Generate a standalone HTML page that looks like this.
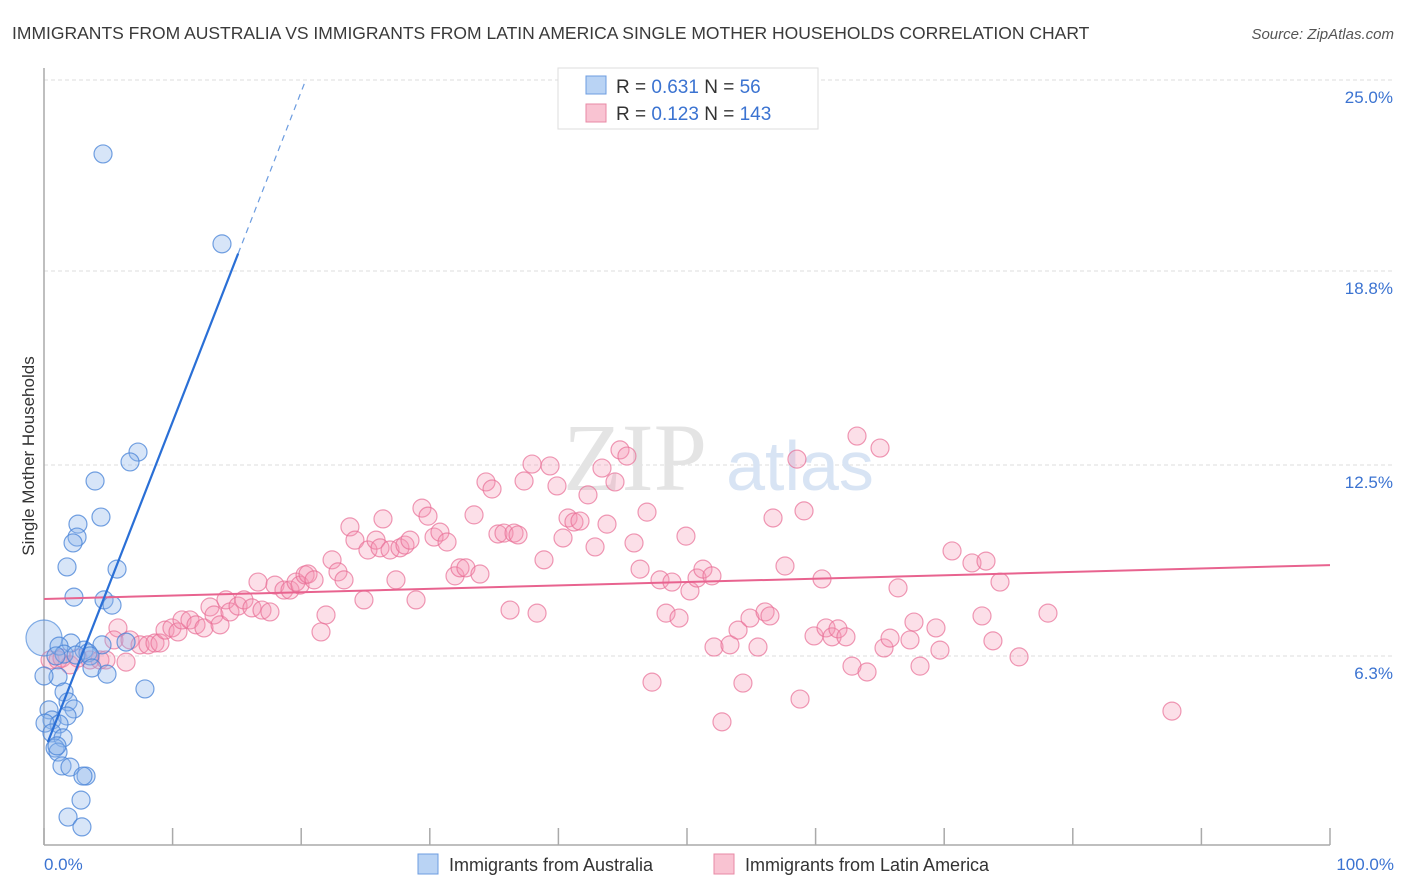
<!DOCTYPE html>
<html><head><meta charset="utf-8"><style>
body{margin:0;background:#fff;font-family:"Liberation Sans",sans-serif}
svg{display:block}
</style></head><body>
<svg id="chart" width="1406" height="892" xmlns="http://www.w3.org/2000/svg">
<text x="12" y="39" font-size="17.5" fill="#3a3a3a">IMMIGRANTS FROM AUSTRALIA VS IMMIGRANTS FROM LATIN AMERICA SINGLE MOTHER HOUSEHOLDS CORRELATION CHART</text>
<text x="1394" y="39" font-size="15" fill="#555" font-style="italic" text-anchor="end">Source: ZipAtlas.com</text>
<g id="grid"></g>
<text x="635" y="490" font-size="96" fill="#e4e4e4" font-family="Liberation Serif,serif" text-anchor="middle">ZIP</text>
<text x="800" y="490" font-size="70" fill="#d8e4f4" text-anchor="middle">atlas</text>
<line x1="44" y1="68" x2="44" y2="845" stroke="#aaa" stroke-width="1.5"/>
<line x1="44" y1="845" x2="1330" y2="845" stroke="#aaa" stroke-width="1.5"/>
<g id="ticks"></g>
<g id="pts"></g>
<g id="lines"></g>
<text x="34" y="456" font-size="17" fill="#333" text-anchor="middle" transform="rotate(-90 34 456)">Single Mother Households</text>
<text x="44" y="870" font-size="17" fill="#3b73d1">0.0%</text>
<text x="1394" y="870" font-size="17" fill="#3b73d1" text-anchor="end">100.0%</text>
<g>
<rect x="558" y="68" width="260" height="61" fill="#fff" stroke="#ddd"/>
<rect x="586" y="76" width="20" height="18" fill="#b9d3f4" stroke="#6d9de0"/>
<rect x="586" y="104" width="20" height="18" fill="#f9c3d2" stroke="#e889a5"/>
<text x="616" y="93" font-size="19" fill="#333">R = <tspan fill="#3b73d1">0.631</tspan>   N =  <tspan fill="#3b73d1">56</tspan></text>
<text x="616" y="120" font-size="19" fill="#333">R = <tspan fill="#3b73d1">0.123</tspan>   N = <tspan fill="#3b73d1">143</tspan></text>
</g>
<g><rect x="418" y="854" width="20" height="20" fill="#b9d3f4" stroke="#6d9de0"/><text x="449" y="871" font-size="18" fill="#333">Immigrants from Australia</text></g>
<g><rect x="714" y="854" width="20" height="20" fill="#f9c3d2" stroke="#e889a5"/><text x="745" y="871" font-size="18" fill="#333">Immigrants from Latin America</text></g>
</svg>
<script>
const yTicks=[25.0,18.8,12.5,6.3];
const yTickLabels=["25.0%","18.8%","12.5%","6.3%"];
const xTicks=[0,10,20,30,40,50,60,70,80,90,100];
const ausPx=[[103,154],[222,244],[138,452],[130,462],[95,481],[101,517],[78,524],[77,537],[73,543],[67,567],[117,569],[74,597],[104,600],[112,605],[126,642],[71,643],[59,646],[102,645],[84,650],[88,653],[64,654],[76,655],[90,656],[56,656],[92,668],[107,674],[58,677],[44,676],[145,689],[64,692],[68,702],[74,709],[49,710],[67,716],[52,720],[59,724],[45,723],[52,733],[63,738],[55,748],[58,752],[57,746],[62,766],[70,767],[86,776],[83,776],[81,800],[68,817],[82,827]];
const latPx=[[50,660],[58,660],[62,658],[70,665],[78,658],[90,660],[100,660],[106,660],[118,628],[126,662],[114,640],[130,640],[140,645],[148,645],[155,643],[160,643],[165,630],[172,628],[178,632],[182,620],[190,620],[196,625],[204,628],[210,607],[214,615],[220,625],[226,600],[230,612],[238,606],[244,600],[252,608],[258,582],[262,610],[270,612],[275,585],[284,590],[290,590],[296,582],[300,585],[305,575],[308,574],[314,580],[321,632],[326,615],[332,560],[338,572],[344,580],[350,527],[355,540],[364,600],[368,550],[376,540],[380,548],[383,519],[390,550],[396,580],[400,548],[405,545],[410,540],[416,600],[422,508],[428,516],[434,537],[440,532],[447,542],[455,576],[460,568],[466,568],[474,515],[480,574],[486,482],[492,489],[498,534],[504,533],[510,610],[514,533],[518,535],[524,481],[532,464],[537,613],[544,560],[550,466],[557,486],[563,538],[568,518],[574,522],[580,521],[588,495],[595,547],[602,468],[607,524],[615,482],[620,450],[627,456],[634,543],[640,569],[647,512],[652,682],[660,580],[666,613],[672,582],[679,618],[686,536],[690,591],[697,578],[703,569],[712,576],[714,647],[722,722],[730,645],[738,630],[743,683],[750,618],[758,647],[765,612],[770,616],[773,518],[785,566],[797,459],[800,699],[804,511],[814,636],[822,579],[826,628],[832,637],[838,629],[846,637],[852,666],[857,436],[867,672],[880,448],[884,648],[890,638],[898,588],[910,640],[914,622],[920,666],[936,628],[940,650],[952,551],[972,563],[982,616],[986,561],[993,641],[1000,582],[1019,657],[1048,613],[1172,711]];
// convert read pixel positions to data values (x %, y %)
const ausX=ausPx.map(p=>+((p[0]-44)/12.86).toFixed(2));
const ausY=ausPx.map(p=>+(25-(p[1]-80)/30.8).toFixed(2));
const latX=latPx.map(p=>+((p[0]-44)/12.86).toFixed(2));
const latY=latPx.map(p=>+(25-(p[1]-80)/30.8).toFixed(2));
const ausTrend=[3.18,1.072]; // intercept, slope
const latTrend=[8.15,0.011];
const NS="http://www.w3.org/2000/svg";
const X=v=>44+v*12.86, Y=v=>80+(25-v)*30.8;
function mk(t,a,parent){const e=document.createElementNS(NS,t);for(const k in a)e.setAttribute(k,a[k]);document.getElementById(parent).appendChild(e);return e;}
yTicks.forEach((v,i)=>{
 const l=mk('line',{x1:44,x2:1393,y1:Y(v),y2:Y(v),stroke:'#ddd','stroke-dasharray':'4,3'},'grid');
 
 
 const t=mk('text',{x:1393,y:Y(v)+23,'font-size':17,fill:'#3b73d1','text-anchor':'end'},'grid');
 t.textContent=yTickLabels[i];
 
 
});
xTicks.forEach(v=>{
 const l=mk('line',{x1:X(v),x2:X(v),y1:828,y2:845,stroke:'#aaa','stroke-width':1.5},'ticks');
 
 
});
latX.forEach((x,i)=>{
 const c=mk('circle',{cx:X(x),cy:Y(latY[i]),r:9,fill:'rgba(245,150,180,0.3)',stroke:'rgba(232,110,150,0.7)','stroke-width':1.2},'pts');
 
 
});
const big=mk('circle',{cx:44,cy:638,r:18,fill:'rgba(140,180,235,0.35)',stroke:'rgba(80,140,220,0.7)','stroke-width':1.2},'pts');


ausX.forEach((x,i)=>{
 const c=mk('circle',{cx:X(x),cy:Y(ausY[i]),r:9,fill:'rgba(140,180,235,0.35)',stroke:'rgba(70,130,215,0.75)','stroke-width':1.2},'pts');
 
 
});
const lt=mk('line',{x1:X(0),y1:Y(latTrend[0]),x2:X(100),y2:Y(latTrend[0]+latTrend[1]*100),stroke:'#e8638f','stroke-width':2},'lines');


const a0=0.3,a1=15.1,a2=20.3;
const at=mk('line',{x1:X(a0),y1:Y(ausTrend[0]+ausTrend[1]*a0),x2:X(a1),y2:Y(ausTrend[0]+ausTrend[1]*a1),stroke:'#2a6fd6','stroke-width':2.2},'lines');


const ad=mk('line',{x1:X(a1),y1:Y(ausTrend[0]+ausTrend[1]*a1),x2:X(a2),y2:Y(ausTrend[0]+ausTrend[1]*a2),stroke:'#6d9de0','stroke-width':1.2,'stroke-dasharray':'6,5'},'lines');


</script>
</body></html>
